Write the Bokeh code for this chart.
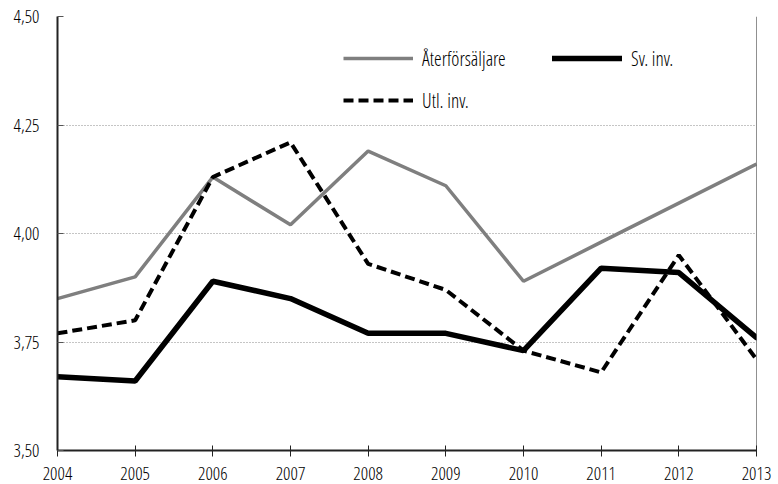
from bokeh.plotting import figure
from bokeh.models import Range1d, FixedTicker, Legend, LegendItem, Span
from bokeh.embed import file_html
from bokeh.resources import INLINE

years = [2004, 2005, 2006, 2007, 2008, 2009, 2010, 2011, 2012, 2013]
aterforsaljare = [3.85, 3.90, 4.13, 4.02, 4.19, 4.11, 3.89, 3.98, 4.07, 4.16]
sv_inv = [3.67, 3.66, 3.89, 3.85, 3.77, 3.77, 3.73, 3.92, 3.91, 3.76]
utl_inv = [3.77, 3.80, 4.13, 4.21, 3.93, 3.87, 3.73, 3.68, 3.95, 3.71]
series_names = ["Återförsäljare", "Sv. inv.", "Utl. inv."]
y_ticks = [3.50, 3.75, 4.00, 4.25, 4.50]
y_tick_labels = ["3,50", "3,75", "4,00", "4,25", "4,50"]
x_tick_labels = [str(y) for y in years]

FONT = "Open Sans Condensed Light, Archivo Narrow, DejaVu Sans Condensed, sans-serif"

p = figure(width=778, height=484, output_backend="svg", toolbar_location=None,
           x_range=Range1d(years[0], years[-1]), y_range=Range1d(y_ticks[0], y_ticks[-1]),
           min_border_left=57, min_border_right=22, min_border_top=16, min_border_bottom=34)
p.outline_line_color = None
p.background_fill_color = "white"
p.border_fill_color = "white"

# grid
p.xgrid.grid_line_color = None
p.ygrid.grid_line_color = "#8a8a8a"
p.ygrid.grid_line_dash = "1 2"
p.ygrid.grid_line_width = 1

# axes
p.xaxis.ticker = FixedTicker(ticks=years)
p.xaxis.major_label_overrides = {yr: lab for yr, lab in zip(years, x_tick_labels)}
p.yaxis.ticker = FixedTicker(ticks=y_ticks)
p.yaxis.major_label_overrides = {t: lab for t, lab in zip(y_ticks, y_tick_labels)}
for ax in (p.xaxis[0], p.yaxis[0]):
    ax.axis_line_color = "#222222"
    ax.axis_line_width = 2
    ax.minor_tick_line_color = None
    ax.major_label_text_font = FONT
    ax.major_label_text_font_size = "18.5px"
    ax.major_label_text_color = "black"
p.xaxis.major_tick_in = 5
p.xaxis.major_tick_out = 6
p.xaxis.major_tick_line_color = "#222222"
p.xaxis.major_label_standoff = 10
p.yaxis.major_tick_in = 6
p.yaxis.major_tick_out = 0
p.yaxis.major_tick_line_color = "#555555"
p.yaxis.major_label_standoff = 18

# right border
p.add_layout(Span(location=years[-1], dimension="height", line_color="#222222", line_width=1))

r1 = p.line(years, aterforsaljare, line_color="#7f7f7f", line_width=3.5)
r3 = p.line(years, utl_inv, line_color="black", line_width=4, line_dash="10 5")
r2 = p.line(years, sv_inv, line_color="black", line_width=5.5, line_cap="round")

legend = Legend(items=[LegendItem(label=series_names[0], renderers=[r1]),
                       LegendItem(label=series_names[1], renderers=[r2]),
                       LegendItem(label=series_names[2], renderers=[r3])],
                location=(286, 329), orientation="horizontal", ncols=2)
legend.border_line_color = None
legend.background_fill_alpha = 0
legend.padding = 0
legend.margin = 0
legend.spacing = 0
legend.glyph_width = 70
legend.glyph_height = 42
legend.label_height = 42
legend.label_width = 130
legend.label_standoff = 9
legend.label_text_font = FONT
legend.label_text_font_size = "19.5px"
legend.label_text_color = "black"
p.add_layout(legend)

open("out.html", "w").write(file_html(p, INLINE))
